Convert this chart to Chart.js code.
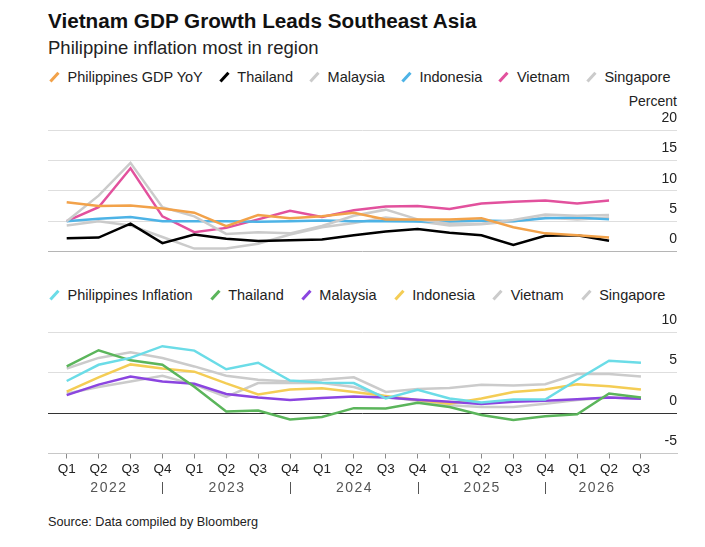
<!DOCTYPE html>
<html lang="en">
<head>
<meta charset="UTF-8">
<title>Vietnam GDP Growth Leads Southeast Asia</title>
<script src="https://cdn.jsdelivr.net/npm/chart.js"></script>
<style>
    body { margin: 0; background: #fff; font-family: "Liberation Sans", Arial, sans-serif; color: #111; }
    #page { position: relative; width: 705px; height: 547px; overflow: hidden; }
    .txt { position: absolute; left: 48px; line-height: 1; white-space: nowrap; }
    #title { top: 10.5px; font-size: 20.7px; font-weight: bold; }
    #subtitle { top: 39.3px; font-size: 18.5px; color: #222; }
    .legend { position: absolute; left: 49px; display: flex; font-size: 14.5px; line-height: 1; color: #222; }
    .legend .item { display: flex; align-items: center; margin-right: 16px; }
    .legend .mk { display: inline-block; width: 2.6px; height: 12px; transform: rotate(42deg); margin: 0 12px 0 4px; }
    #legend1 { top: 69.5px; }
    #legend2 { top: 288px; }
    #legend2 .item { margin-right: 17px; }
    #percent { position: absolute; right: 28px; top: 94px; font-size: 14px; line-height: 1; color: #222; }
    #source { top: 515.8px; font-size: 12.7px; color: #222; }
    canvas { position: absolute; left: 0; }
    #gdpChart { top: 95px; }
    #cpiChart { top: 305px; }
</style>
</head>
<body>
<div id="page">
    <div id="title" class="txt">Vietnam GDP Growth Leads Southeast Asia</div>
    <div id="subtitle" class="txt">Philippine inflation most in region</div>
    <div id="legend1" class="legend"></div>
    <div id="percent">Percent</div>
    <canvas id="gdpChart" width="705" height="165"></canvas>
    <div id="legend2" class="legend"></div>
    <canvas id="cpiChart" width="705" height="195"></canvas>
    <div id="source" class="txt">Source: Data compiled by Bloomberg</div>
</div>

<script>
    // x axis
    const quarters = ['Q1', 'Q2', 'Q3', 'Q4', 'Q1', 'Q2', 'Q3', 'Q4', 'Q1', 'Q2', 'Q3', 'Q4',
        'Q1', 'Q2', 'Q3', 'Q4', 'Q1', 'Q2', 'Q3'];
    const years = ['2022', '2023', '2024', '2025', '2026'];

    // GDP YoY (top panel)
    const gdpPhilippines = [8.1, 7.5, 7.6, 7.1, 6.4, 4.2, 6.0, 5.5, 5.8, 6.4, 5.3, 5.3, 5.3, 5.5, 4.0, 3.0, 2.7, 2.3];
    const gdpThailand = [2.2, 2.3, 4.6, 1.4, 2.8, 2.1, 1.75, 1.85, 2.0, 2.7, 3.3, 3.7, 3.1, 2.7, 1.1, 2.6, 2.7, 1.8];
    const gdpMalaysia = [5.0, 9.2, 14.6, 7.3, 5.8, 2.9, 3.2, 3.0, 4.2, 5.9, 6.9, 5.3, 4.6, 4.6, 5.2, 6.1, 5.9, 6.0];
    const gdpIndonesia = [5.0, 5.4, 5.7, 5.0, 5.0, 5.0, 4.9, 5.0, 5.1, 5.0, 5.0, 4.95, 4.9, 5.1, 5.0, 5.5, 5.6, 5.3];
    const gdpVietnam = [5.0, 7.3, 13.7, 5.8, 3.2, 3.9, 5.3, 6.7, 5.7, 6.8, 7.4, 7.5, 7.0, 7.9, 8.2, 8.4, 7.9, 8.4];
    const gdpSingapore = [4.3, 5.0, 4.3, 2.4, 0.5, 0.5, 1.3, 2.8, 4.0, 4.7, 5.6, 5.0, 4.3, 4.5, 5.0, 5.6, 5.3, 5.6];

    // Inflation (bottom panel)
    const cpiPhilippines = [3.95, 5.95, 6.8, 8.25, 7.7, 5.4, 6.2, 4.0, 3.75, 3.7, 1.8, 2.85, 1.8, 1.3, 1.67, 1.67, 4.1, 6.45, 6.2];
    const cpiThailand = [5.75, 7.75, 6.5, 5.95, 3.25, 0.2, 0.3, -0.8, -0.5, 0.6, 0.55, 1.25, 0.75, -0.25, -0.85, -0.4, -0.15, 2.4, 1.9];
    const cpiMalaysia = [2.2, 3.5, 4.5, 3.9, 3.6, 2.35, 1.9, 1.6, 1.85, 2.05, 1.9, 1.65, 1.4, 1.1, 1.4, 1.5, 1.7, 1.9, 1.75];
    const cpiIndonesia = [2.65, 4.4, 6.0, 5.5, 5.1, 3.65, 2.3, 2.9, 3.05, 2.6, 2.1, 1.6, 1.15, 1.8, 2.6, 2.9, 3.55, 3.3, 2.9];
    const cpiVietnam = [2.4, 3.2, 3.9, 4.6, 3.5, 2.0, 3.7, 3.7, 3.7, 3.2, 2.0, 1.5, 0.95, 0.75, 0.75, 1.15, 1.6, 1.9, 1.75];
    const cpiSingapore = [5.5, 6.8, 7.5, 6.8, 5.75, 4.6, 4.1, 3.9, 4.1, 4.4, 2.6, 2.95, 3.1, 3.5, 3.4, 3.55, 4.8, 4.8, 4.5];

    const FONT = '"Liberation Sans", Arial, sans-serif';
    const GRAY = '#cbcbcb';

    const gdpSeries = [
        { label: 'Philippines GDP YoY', data: gdpPhilippines, color: '#f2a24a' },
        { label: 'Thailand', data: gdpThailand, color: '#000000' },
        { label: 'Malaysia', data: gdpMalaysia, color: GRAY },
        { label: 'Indonesia', data: gdpIndonesia, color: '#4db3e6' },
        { label: 'Vietnam', data: gdpVietnam, color: '#e2519d' },
        { label: 'Singapore', data: gdpSingapore, color: GRAY }
    ];
    const cpiSeries = [
        { label: 'Philippines Inflation', data: cpiPhilippines, color: '#6bdce7' },
        { label: 'Thailand', data: cpiThailand, color: '#5bb55b' },
        { label: 'Malaysia', data: cpiMalaysia, color: '#8b45e0' },
        { label: 'Indonesia', data: cpiIndonesia, color: '#f4cd55' },
        { label: 'Vietnam', data: cpiVietnam, color: GRAY },
        { label: 'Singapore', data: cpiSingapore, color: GRAY }
    ];

    // HTML legends with the little slash markers
    function buildLegend(id, series) {
        const box = document.getElementById(id);
        series.forEach(s => {
            const item = document.createElement('span');
            item.className = 'item';
            const mk = document.createElement('span');
            mk.className = 'mk';
            mk.style.background = s.color;
            const lab = document.createElement('span');
            lab.textContent = s.label;
            item.appendChild(mk);
            item.appendChild(lab);
            box.appendChild(item);
        });
    }
    buildLegend('legend1', gdpSeries);
    buildLegend('legend2', cpiSeries);

    function toDatasets(series) {
        return series.map(s => ({
            label: s.label,
            data: s.data.map((v, i) => ({ x: i, y: v })),
            borderColor: s.color,
            backgroundColor: s.color,
            borderWidth: 2.5,
            pointRadius: 0,
            tension: 0,
            fill: false
        }));
    }

    // quarter index range so Q1 2022 sits ~19px inside the plot
    const X_MIN = -0.586;
    const X_MAX = 19.13;
    const tickIdx = quarters.map((q, i) => i);

    function yAxis(min, max, step, gridColor) {
        return {
            position: 'right',
            min: min,
            max: max,
            afterFit: s => { s.width = 0; },
            border: { display: false },
            grid: { drawTicks: false, color: gridColor, lineWidth: 1 },
            ticks: {
                stepSize: step,
                mirror: true,
                padding: 0,
                labelOffset: -12,
                color: '#222',
                font: { family: FONT, size: 14 }
            }
        };
    }

    Chart.defaults.font.family = FONT;

    new Chart(document.getElementById('gdpChart'), {
        type: 'line',
        data: { datasets: toDatasets(gdpSeries) },
        options: {
            responsive: false,
            animation: false,
            layout: { padding: { left: 48, right: 28, top: 35, bottom: 8 } },
            plugins: { legend: { display: false }, tooltip: { enabled: false } },
            scales: {
                x: { type: 'linear', min: X_MIN, max: X_MAX, display: false },
                y: yAxis(0, 20, 5, ctx => ctx.tick.value === 0 ? '#b5b5b5' : '#dedede')
            }
        }
    });

    // year captions and separators under the quarter ticks
    const yearPlugin = {
        id: 'years',
        afterDraw(chart) {
            const x = chart.scales.x;
            const ctx = chart.ctx;
            const centers = [1.3, 5, 9, 13, 16.6];
            const seps = [3, 7, 11, 15];
            ctx.save();
            ctx.fillStyle = '#555';
            ctx.font = '14px ' + FONT;
            ctx.letterSpacing = '1.5px';
            ctx.textAlign = 'center';
            ctx.textBaseline = 'middle';
            years.forEach((y, i) => ctx.fillText(y, x.getPixelForValue(centers[i]) + 0.75, 183));
            ctx.strokeStyle = '#555';
            ctx.lineWidth = 1;
            seps.forEach(v => {
                const px = Math.round(x.getPixelForValue(v)) + 0.5;
                ctx.beginPath();
                ctx.moveTo(px, 177);
                ctx.lineTo(px, 189);
                ctx.stroke();
            });
            ctx.restore();
        }
    };

    new Chart(document.getElementById('cpiChart'), {
        type: 'line',
        data: { datasets: toDatasets(cpiSeries) },
        options: {
            responsive: false,
            animation: false,
            layout: { padding: { left: 48, right: 28, top: 27, bottom: 0 } },
            plugins: { legend: { display: false }, tooltip: { enabled: false } },
            scales: {
                x: {
                    type: 'linear',
                    min: X_MIN,
                    max: X_MAX,
                    afterFit: s => { s.height = 46.5; },
                    afterBuildTicks: s => { s.ticks = tickIdx.map(v => ({ value: v })); },
                    border: { display: true, color: '#c8c8c8', width: 1 },
                    grid: { drawOnChartArea: false, drawTicks: true, tickLength: 5, color: '#8a8a8a' },
                    ticks: {
                        autoSkip: false,
                        maxRotation: 0,
                        padding: 3,
                        color: '#222',
                        font: { family: FONT, size: 13.5 },
                        callback: v => quarters[v]
                    }
                },
                y: yAxis(-5, 10, 5, ctx => ctx.tick.value === 0 ? '#333' : (ctx.tick.value === -5 ? '#c8c8c8' : '#dedede'))
            }
        },
        plugins: [yearPlugin]
    });
</script>
</body>
</html>
